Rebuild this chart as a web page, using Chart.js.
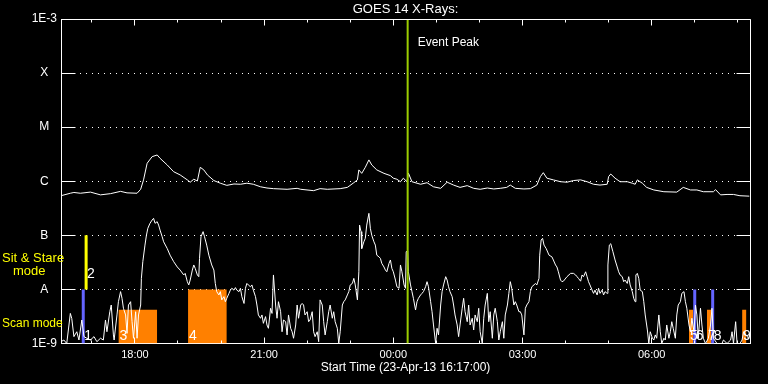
<!DOCTYPE html>
<html>
<head>
<meta charset="utf-8">
<style>
html,body{margin:0;padding:0;background:#000;overflow:hidden;}
canvas{display:block;}
</style>
<script src="https://cdn.jsdelivr.net/npm/chart.js"></script>
</head>
<body>
<canvas id="c" width="768" height="384"></canvas>
<script>
// ---------------- DATA ----------------
const chartTitle = 'GOES 14 X-Rays:';
const xAxisTitle = 'Start Time (23-Apr-13 16:17:00)';
// time axis: minutes after 23-Apr-13 16:17:00
const timeSpan = 960;
const hourTickTimes = [43, 103, 163, 223, 283, 343, 403, 463, 523, 583, 643, 703, 763, 823, 883, 943];
const labeledTickTimes = [103, 283, 463, 643, 823];
const labeledTickText = ['18:00', '21:00', '00:00', '03:00', '06:00'];

const yTickValues = [1e-9, 1e-8, 1e-7, 1e-6, 1e-5, 1e-4, 1e-3];
const yTickLabels = ['1E-9', 'A', 'B', 'C', 'M', 'X', '1E-3'];

const eventPeakTime = 483;
const eventPeakLabel = 'Event Peak';

// 1-8 A channel (upper curve)
const longT = [0,13,18,27,41,55,69,83,92,106,111,115,120,127,134,138,148,157,166,176,180,185,190,194,199,204,213,222,231,241,250,259,268,278,287,296,315,329,334,352,361,371,389,399,408,413,415,419,424,429,433,440,450,459,463,468,473,477,482,484,489,501,510,519,529,538,547,556,566,575,584,594,603,612,621,626,633,645,654,663,668,672,677,686,696,705,714,724,733,742,751,761,763,766,772,779,789,796,800,803,810,816,826,840,858,867,877,886,895,909,912,919,928,937,946,959];
const longFlux = [5.4e-7,6.0e-7,6.2e-7,6.0e-7,6.3e-7,5.6e-7,5.9e-7,6.5e-7,6.1e-7,6.0e-7,7.1e-7,1.06e-6,2.15e-6,2.85e-6,3.06e-6,2.66e-6,2.0e-6,1.5e-6,1.31e-6,1.06e-6,9.6e-7,1.09e-6,1.01e-6,1.81e-6,1.62e-6,1.31e-6,1.03e-6,9.2e-7,8.4e-7,8.9e-7,8.8e-7,9.2e-7,8.8e-7,7.9e-7,7.5e-7,7.3e-7,7.1e-7,7.4e-7,7.1e-7,6.7e-7,7.3e-7,7.1e-7,7.3e-7,7.7e-7,9.4e-7,1.06e-6,1.62e-6,1.4e-6,1.81e-6,2.48e-6,2.0e-6,1.62e-6,1.4e-6,1.27e-6,1.14e-6,1.09e-6,9.8e-7,1.14e-6,9.8e-7,1.42e-6,9.8e-7,8.8e-7,9.4e-7,7.9e-7,7.4e-7,9.6e-7,8.5e-7,7.7e-7,8.3e-7,7.4e-7,7.1e-7,7.5e-7,7.2e-7,7.4e-7,7.7e-7,8.5e-7,7.4e-7,7.2e-7,7.3e-7,8.5e-7,1.22e-6,1.44e-6,1.14e-6,1.06e-6,9.8e-7,9.6e-7,1.03e-6,1.06e-6,9.8e-7,8.8e-7,8.5e-7,8.8e-7,1.22e-6,1.36e-6,1.14e-6,9.8e-7,9.8e-7,9.2e-7,8.8e-7,1.06e-6,9.2e-7,7.7e-7,6.9e-7,6.4e-7,6.3e-7,7.7e-7,6.9e-7,6.9e-7,6.4e-7,6.4e-7,7.0e-7,5.6e-7,5.7e-7,5.7e-7,5.4e-7,5.3e-7];

// 0.5-4 A channel (lower curve)
const shortT = [0,4,8,13,15,18,22,25,29,32,36,41,46,50,55,59,62,64,68,70,73,74,78,80,83,85,87,90,92,94,97,99,101,104,106,108,111,112,114,117,119,121,124,127,129,131,134,136,138,141,143,148,152,157,162,166,171,173,176,178,180,183,185,187,190,192,193,195,198,200,203,206,210,213,215,217,220,222,224,227,229,231,234,236,238,241,243,245,248,250,252,255,257,259,261,264,266,268,271,273,275,278,280,282,285,287,289,292,294,296,299,301,303,306,308,310,313,315,317,320,322,324,327,329,331,334,336,338,340,343,345,347,350,352,354,357,359,361,364,366,368,371,373,375,378,380,382,385,387,389,392,394,396,399,401,403,406,408,410,413,415,416,418,419,422,424,426,429,431,433,436,438,440,443,445,447,450,452,454,457,459,461,463,466,468,471,473,475,478,480,481,483,484,487,489,491,494,496,498,501,503,505,508,510,512,515,517,519,522,524,526,529,531,533,536,538,540,542,545,547,549,552,554,556,559,561,563,566,568,570,573,575,577,580,582,584,587,589,591,594,596,598,601,603,605,608,610,612,615,617,619,622,624,626,628,631,633,635,638,640,642,645,647,649,652,654,656,659,661,663,666,667,669,671,673,676,680,684,686,689,691,693,696,698,700,705,710,714,717,719,721,724,726,728,731,733,735,737,740,742,744,747,749,751,754,756,758,761,762,764,766,769,772,775,777,779,782,784,786,789,791,793,796,798,800,801,803,805,807,810,812,814,817,819,821,824,826,828,830,833,835,837,840,842,844,847,849,851,853,856,858,860,863,865,868,870,872,875,877,879,882,884,886,888,891,893,895,898,902,905,907,909,914,921,923,928,933,935,937,940,942,946,949,951,958];
const shortFlux = [1.08e-9,1.16e-9,1.0e-9,3.6e-9,2.9e-9,1.34e-9,1.65e-9,1.16e-9,2.72e-9,1.34e-9,1.25e-9,1.16e-9,1.34e-9,1.08e-9,1.25e-9,1.16e-9,2.72e-9,1.65e-9,3.87e-9,5.15e-9,1.44e-9,1.16e-9,3.37e-9,5.93e-9,9.1e-9,6.85e-9,4.48e-9,3.37e-9,1.54e-9,5.15e-9,5.93e-9,2.53e-9,1.25e-9,3.87e-9,1.25e-9,3.37e-9,5.15e-9,1.6e-8,3.26e-8,6.6e-8,1.0e-7,1.35e-7,1.67e-7,1.92e-7,2.06e-7,1.67e-7,1.79e-7,1.55e-7,1.25e-7,9.4e-8,7.6e-8,5.7e-8,4.3e-8,3.26e-8,2.6e-8,2.28e-8,1.85e-8,1.98e-8,1.39e-8,1.21e-8,1.49e-8,2.28e-8,2.83e-8,2.45e-8,1.85e-8,1.72e-8,3.75e-8,9.4e-8,1.17e-7,9.4e-8,6.6e-8,4.3e-8,2.83e-8,2.28e-8,1.29e-8,9.1e-9,7.9e-9,9.1e-9,6.4e-9,7.35e-9,5.93e-9,6.85e-9,8.45e-9,9.7e-9,1.05e-8,9.7e-9,1.08e-8,9.7e-9,9.1e-9,1.05e-8,7.35e-9,5.5e-9,1.05e-8,1.29e-8,1.21e-8,1.12e-8,1.21e-8,9.7e-9,7.35e-9,5.15e-9,3.37e-9,2.93e-9,3.37e-9,2.36e-9,3.14e-9,2.2e-9,1.91e-9,4.48e-9,3.6e-9,1.85e-8,5.15e-9,2.93e-9,5.93e-9,3.87e-9,1.65e-9,2.72e-9,2.53e-9,1.44e-9,3.37e-9,1.91e-9,1.65e-9,1.25e-9,2.2e-9,5.15e-9,2.93e-9,5.15e-9,5.5e-9,5.15e-9,3.37e-9,3.87e-9,2.53e-9,2.72e-9,3.87e-9,1.65e-9,1.34e-9,1.65e-9,1.08e-9,6.4e-9,5.15e-9,2.53e-9,1.44e-9,2.53e-9,3.87e-9,5.15e-9,2.93e-9,3.87e-9,2.53e-9,1.91e-9,1.0e-9,1.65e-9,5.15e-9,5.93e-9,6.4e-9,7.9e-9,9.1e-9,1.21e-8,1.29e-8,1.6e-8,1.21e-8,6.4e-9,2.12e-8,1.55e-7,1.17e-7,5.7e-8,7.6e-8,8.8e-8,1.55e-7,2.55e-7,1.35e-7,1.0e-7,7.6e-8,6.6e-8,4.3e-8,4.0e-8,3.75e-8,3.02e-8,2.6e-8,2.28e-8,2.12e-8,3.02e-8,3.5e-8,2.45e-8,2.12e-8,1.49e-8,1.12e-8,1.05e-8,2.83e-8,2.12e-8,1.21e-8,1.05e-8,4.98e-8,5.2e-8,2.12e-8,1.21e-8,9.1e-9,6.85e-9,4.17e-9,5.93e-9,6.85e-9,7.9e-9,8.45e-9,9.1e-9,1.12e-8,1.39e-8,1.12e-8,5.93e-9,3.87e-9,2.2e-9,1.0e-9,1.91e-9,1.44e-9,5.15e-9,9.1e-9,1.21e-8,1.72e-8,1.49e-8,1.12e-8,9.1e-9,7.35e-9,5.15e-9,3.37e-9,2.2e-9,1.34e-9,2.2e-9,4.48e-9,6.85e-9,3.87e-9,2.53e-9,5.15e-9,2.2e-9,2.93e-9,1.78e-9,3.37e-9,2.53e-9,4.48e-9,1.65e-9,1.0e-9,2.93e-9,5.15e-9,8.45e-9,2.53e-9,3.87e-9,1.25e-9,3.37e-9,4.48e-9,2.53e-9,1.16e-9,1.65e-9,2.53e-9,1.25e-9,3.37e-9,5.15e-9,8.45e-9,1.39e-8,1.05e-8,5.15e-9,5.93e-9,5.15e-9,3.87e-9,3.87e-9,3.37e-9,1.44e-9,4.48e-9,5.15e-9,5.93e-9,9.1e-9,1.12e-8,1.21e-8,1.29e-8,1.21e-8,1.6e-8,4.3e-8,8.2e-8,8.8e-8,6.6e-8,5.7e-8,4.3e-8,4.0e-8,3.5e-8,2.83e-8,2.6e-8,2.12e-8,1.49e-8,1.39e-8,1.42e-8,1.72e-8,1.98e-8,1.98e-8,1.85e-8,1.72e-8,1.6e-8,1.42e-8,1.85e-8,1.72e-8,2.12e-8,1.72e-8,1.39e-8,1.21e-8,9.7e-9,8.45e-9,9.7e-9,7.9e-9,1.05e-8,8.45e-9,9.7e-9,7.9e-9,9.1e-9,8.45e-9,2.83e-8,6.6e-8,7.0e-8,4.98e-8,3.5e-8,2.6e-8,2.12e-8,1.85e-8,1.72e-8,1.39e-8,1.49e-8,1.29e-8,1.72e-8,1.21e-8,9.1e-9,6.85e-9,5.93e-9,1.85e-8,1.98e-8,1.6e-8,9.7e-9,9.1e-9,5.93e-9,3.37e-9,1.78e-9,1.0e-9,1.65e-9,1.25e-9,1.16e-9,1.44e-9,1.25e-9,3.37e-9,1.65e-9,1.0e-9,1.25e-9,1.16e-9,2.2e-9,1.25e-9,1.65e-9,2.53e-9,1.91e-9,1.25e-9,3.37e-9,5.15e-9,5.93e-9,8.45e-9,9.1e-9,5.93e-9,4.48e-9,2.2e-9,1.65e-9,2.93e-9,1.65e-9,5.15e-9,3.37e-9,1.25e-9,4.48e-9,2.2e-9,1.25e-9,1.0e-9,1.25e-9,2.2e-9,4.48e-9,1.25e-9,1.0e-9,1.0e-9,1.16e-9,1.0e-9,1.16e-9,1.65e-9,1.0e-9,2.53e-9,1.0e-9,1.0e-9,1.16e-9,1.65e-9,1.25e-9];

// observing-mode markers
const modeLabel = ['1', '2', '3', '4', '5', '6', '7', '8', '9'];
const modeKind  = ['scan', 'stare', 'raster', 'raster', 'raster', 'scan', 'raster', 'scan', 'raster'];
const modeStart = [31, 35, 80, 177, 875, 883, 900, 908, 949];
const modeEnd   = [31, 35, 134, 231, 881, 883, 906, 908, 955];
const modeLow   = [1e-9, 1e-8, 1e-9, 1e-9, 1e-9, 1e-9, 1e-9, 1e-9, 1e-9];
const modeHigh  = [1e-8, 1e-7, 4.2e-9, 1e-8, 4.2e-9, 1e-8, 4.2e-9, 1e-8, 4.2e-9];

// ---------------- STYLE ----------------
const FONT = '"Liberation Sans", Arial, sans-serif';
const kindColor = {scan: '#6464ff', stare: '#ffff00', raster: '#ff8000'};
const eventColor = '#9ccc00';

const zip = (ts, vs) => ts.map((t, i) => ({x: t, y: vs[i]}));

const datasets = [];
datasets.push({
  label: eventPeakLabel,
  data: [{x: eventPeakTime, y: 1e-9}, {x: eventPeakTime, y: 1e-3}],
  borderColor: eventColor, borderWidth: 2, pointRadius: 0, order: 0
});
datasets.push({label: 'long', data: zip(longT, longFlux), borderColor: '#fff', borderWidth: 1, pointRadius: 0, order: 1});
datasets.push({label: 'short', data: zip(shortT, shortFlux), borderColor: '#fff', borderWidth: 1, pointRadius: 0, order: 1});
modeLabel.forEach((lab, i) => {
  if (modeKind[i] === 'raster') {
    datasets.push({
      label: 'mode ' + lab,
      data: [{x: modeStart[i], y: modeLow[i]}, {x: modeStart[i], y: modeHigh[i]}, {x: modeEnd[i], y: modeHigh[i]}, {x: modeEnd[i], y: modeLow[i]}],
      borderWidth: 0, borderColor: 'rgba(0,0,0,0)', backgroundColor: kindColor.raster,
      fill: 'start', pointRadius: 0, order: 3
    });
  } else {
    datasets.push({
      label: 'mode ' + lab,
      data: [{x: modeStart[i], y: modeLow[i]}, {x: modeEnd[i], y: modeHigh[i]}],
      borderWidth: 3, borderColor: kindColor[modeKind[i]], pointRadius: 0, order: 2
    });
  }
});

const align = v => Math.round(v - 0.5) + 0.5;

const decorPlugin = {
  id: 'decor',
  beforeDraw(chart) {
    const ctx = chart.ctx;
    ctx.save();
    ctx.fillStyle = '#000';
    ctx.fillRect(0, 0, chart.width, chart.height);
    ctx.restore();
  },
  afterDraw(chart) {
    const {ctx, chartArea: a, scales: {x, y}} = chart;
    ctx.save();
    ctx.strokeStyle = '#fff';
    ctx.lineWidth = 1;
    const L = align(a.left), R = align(a.right), T = align(a.top), B = align(a.bottom);
    ctx.beginPath();
    ctx.moveTo(L, T); ctx.lineTo(R, T); ctx.lineTo(R, B);
    // y inside ticks
    yTickValues.forEach(v => {
      const py = align(y.getPixelForValue(v));
      ctx.moveTo(L, py); ctx.lineTo(L + 14, py);
      ctx.moveTo(R - 14, py); ctx.lineTo(R, py);
    });
    // x inside ticks
    hourTickTimes.forEach(t => {
      const px = align(x.getPixelForValue(t));
      const len = labeledTickTimes.includes(t) ? 6 : 3;
      ctx.moveTo(px, B); ctx.lineTo(px, B - len);
      ctx.moveTo(px, T); ctx.lineTo(px, T + len);
    });
    ctx.stroke();

    // texts
    ctx.textBaseline = 'middle';
    ctx.textAlign = 'left';
    ctx.fillStyle = '#fff';
    ctx.font = '12px ' + FONT;
    ctx.fillText(eventPeakLabel, x.getPixelForValue(eventPeakTime) + 10, 43);

    ctx.fillStyle = '#ffff00';
    ctx.font = '13px ' + FONT;
    ctx.fillText('Sit & Stare', 2, 258);
    ctx.fillText('mode', 13, 271);
    ctx.font = '12px ' + FONT;
    ctx.fillText('Scan mode', 2, 324);

    // mode numbers
    ctx.fillStyle = '#fff';
    ctx.font = '14px ' + FONT;
    ctx.textBaseline = 'alphabetic';
    modeLabel.forEach((lab, i) => {
      const px = x.getPixelForValue(modeStart[i]) + 1;
      const py = y.getPixelForValue(modeLow[i]) - (modeKind[i] === 'stare' ? 11 : 4);
      ctx.fillText(lab, px, py);
    });
    ctx.restore();
  }
};

new Chart(document.getElementById('c'), {
  type: 'line',
  data: {datasets},
  plugins: [decorPlugin],
  options: {
    responsive: false,
    animation: false,
    devicePixelRatio: 1,
    events: [],
    layout: {padding: {left: 0, right: 18, top: 0, bottom: 0}},
    elements: {line: {tension: 0}},
    plugins: {
      legend: {display: false},
      tooltip: {enabled: false},
      title: {
        display: true, text: chartTitle, color: '#fff', fullSize: false,
        font: {family: FONT, size: 13, weight: 'normal'},
        padding: {top: 2, bottom: 1.4}
      }
    },
    scales: {
      x: {
        type: 'linear', position: 'bottom', min: 0, max: timeSpan,
        grid: {display: false, drawTicks: false},
        border: {display: true, color: '#fff', width: 1},
        ticks: {
          color: '#fff', font: {family: FONT, size: 11}, padding: 5,
          maxRotation: 0, autoSkip: false,
          callback: (v) => { const k = labeledTickTimes.indexOf(v); return k >= 0 ? labeledTickText[k] : ''; }
        },
        afterBuildTicks: s => { s.ticks = labeledTickTimes.map(v => ({value: v})); },
        afterFit: s => { s.height = 40.5; },
        title: {display: true, text: xAxisTitle, color: '#fff', font: {family: FONT, size: 12}, padding: {top: 0, bottom: 9}}
      },
      y: {
        type: 'logarithmic', position: 'left', min: 1e-9, max: 1e-3,
        grid: {display: true, color: '#fff', lineWidth: 1, drawTicks: false, drawOnChartArea: true},
        border: {display: true, color: '#fff', width: 1, dash: [1, 5]},
        ticks: {
          color: '#fff', font: {family: FONT, size: 12}, padding: 4, crossAlign: 'center', autoSkip: false,
          callback: (v, i) => yTickLabels[i]
        },
        afterBuildTicks: s => { s.ticks = yTickValues.map(v => ({value: v, major: true})); },
        afterFit: s => { s.width = 61; }
      }
    }
  }
});
</script>
</body>
</html>
